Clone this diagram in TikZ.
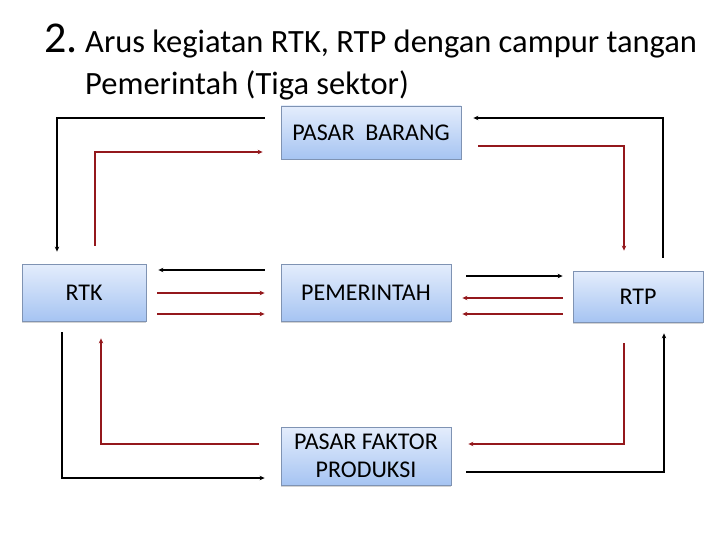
\documentclass[tikz,border=0pt]{standalone}
\usepackage{fontspec}
\setmainfont{Carlito}
\usepackage{tikz}
\usetikzlibrary{arrows.meta, shadows}
\definecolor{boxtop}{HTML}{E4EDFC}
\definecolor{boxbot}{HTML}{A6C4F2}
\definecolor{boxline}{HTML}{7F93B3}
\definecolor{flowred}{HTML}{94181C}

\begin{document}
\begin{tikzpicture}[
    x=1pt, y=-1pt,
    sector/.style={draw=boxline, line width=0.8pt, top color=boxtop, bottom color=boxbot,
        drop shadow={shadow xshift=0pt, shadow yshift=-1.5pt, opacity=0.35},
        font=\fontsize{24}{28}\selectfont, align=center, inner sep=0pt},
    blk/.style={-{Stealth[length=5pt, width=4.5pt]}, line width=1.3pt, black},
    rd/.style={-{Stealth[length=5pt, width=4.5pt]}, line width=1.3pt, flowred},
    judul/.style={anchor=base west, inner sep=0pt, font=\fontsize{32.5}{38}\selectfont}
]
\useasboundingbox (0,0) rectangle (720,540);

% title
\node[anchor=base west, inner sep=0pt, font=\fontsize{44}{44}\selectfont] (nomor) at (44,53) {2.};
\node[judul] (judul1) at (85,53) {Arus kegiatan RTK, RTP dengan campur tangan};
\node[judul] (judul2) at (85,95) {Pemerintah (Tiga sektor)};

% sectors
\node[sector, minimum width=180pt, minimum height=53pt] (barang) at (371,132.5) {PASAR\ \ BARANG};
\node[sector, minimum width=124pt, minimum height=57pt] (rtk) at (84,292.5) {RTK};
\node[sector, minimum width=170pt, minimum height=57pt] (pemerintah) at (366,292.5) {PEMERINTAH};
\node[sector, minimum width=130pt, minimum height=51pt] (rtp) at (638,296.5) {RTP};
\node[sector, minimum width=170pt, minimum height=58pt] (faktor) at (366,456) {PASAR FAKTOR\\PRODUKSI};

% upper loop
\draw[blk] ([xshift=-16pt,yshift=14.5pt]barang.west) -| ([xshift=-27pt,yshift=12pt]rtk.north);
\draw[rd] ([xshift=11pt,yshift=18pt]rtk.north) |- ([xshift=-18pt,yshift=-19.5pt]barang.west);
\draw[blk] ([xshift=25pt,yshift=13pt]rtp.north) |- ([xshift=12pt,yshift=14.5pt]barang.east);
\draw[rd] ([xshift=17pt,yshift=-13.5pt]barang.east) -| ([xshift=-14pt,yshift=20pt]rtp.north);

% with the government
\draw[blk] ([xshift=-16pt,yshift=22.5pt]pemerintah.west) -- ([xshift=12pt,yshift=22.5pt]rtk.east);
\draw[rd] ([xshift=11pt,yshift=-0.5pt]rtk.east) -- ([xshift=-16pt,yshift=-0.5pt]pemerintah.west);
\draw[rd] ([xshift=11pt,yshift=-21.5pt]rtk.east) -- ([xshift=-16pt,yshift=-21.5pt]pemerintah.west);
\draw[blk] ([xshift=15pt,yshift=16.5pt]pemerintah.east) -- ([xshift=-10pt,yshift=20.5pt]rtp.west);
\draw[rd] ([xshift=-10pt,yshift=-1.5pt]rtp.west) -- ([xshift=11pt,yshift=-5.5pt]pemerintah.east);
\draw[rd] ([xshift=-10pt,yshift=-17.5pt]rtp.west) -- ([xshift=11pt,yshift=-21.5pt]pemerintah.east);

% lower loop
\draw[blk] ([xshift=-22pt,yshift=-11pt]rtk.south) |- ([xshift=-16pt,yshift=-22pt]faktor.west);
\draw[rd] ([xshift=-22pt,yshift=12pt]faktor.west) -| ([xshift=17pt,yshift=-17pt]rtk.south);
\draw[rd] ([xshift=-14pt,yshift=-21pt]rtp.south) |- ([xshift=17pt,yshift=12pt]faktor.east);
\draw[blk] ([xshift=15pt,yshift=-16pt]faktor.east) -| ([xshift=26pt,yshift=-11pt]rtp.south);
\end{tikzpicture}
\end{document}
